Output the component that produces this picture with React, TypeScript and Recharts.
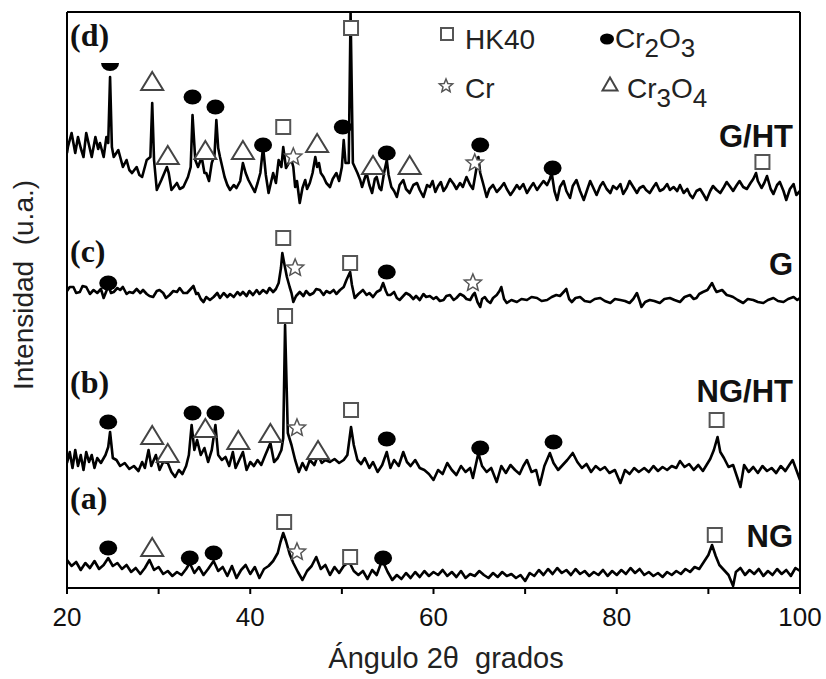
import { ComposedChart, Line, Scatter, XAxis, YAxis, ReferenceLine } from 'recharts';

// 2-theta ticks (minor every 10, labels every 20)
const angleTicks = [20, 30, 40, 50, 60, 70, 80, 90, 100];

// [2θ, intensity], each pattern relative to its own zero
const patternNG: [number, number][] = [
  [20.0, 28], [20.5, 22], [21.0, 26], [21.5, 18], [22.0, 25], [22.5, 20], [23.0, 27], [23.5, 19],
  [24.0, 23], [24.5, 30], [25.0, 22], [25.5, 25], [26.0, 19], [26.5, 23], [27.0, 16], [27.5, 20],
  [28.0, 14], [28.5, 20], [29.0, 28], [29.5, 18], [30.0, 21], [30.5, 14], [31.0, 17], [31.5, 12],
  [32.0, 16], [32.5, 13], [33.0, 19], [33.4, 25], [33.9, 15], [34.4, 21], [34.9, 13], [35.4, 19],
  [36.0, 27], [36.5, 17], [37.0, 21], [37.5, 12], [38.0, 22], [38.5, 10], [39.0, 18], [39.5, 23],
  [40.0, 14], [40.5, 21], [41.0, 10], [41.5, 19], [42.0, 22], [42.5, 27], [43.0, 35], [43.3, 46],
  [43.6, 55], [43.9, 47], [44.3, 34], [44.7, 25], [45.2, 16], [45.7, 8], [46.2, 17], [46.7, 22],
  [47.2, 31], [47.7, 19], [48.2, 23], [48.7, 13], [49.2, 21], [49.7, 15], [50.2, 22], [50.8, 26],
  [51.3, 17], [51.8, 13], [52.3, 17], [52.8, 9], [53.3, 18], [53.8, 13], [54.4, 28], [55.0, 16],
  [55.5, 8], [56.0, 13], [56.5, 9], [57.0, 15], [57.5, 10], [58.0, 16], [58.5, 11], [59.0, 17],
  [59.5, 12], [60.0, 16], [60.5, 13], [61.0, 18], [61.5, 12], [62.0, 16], [62.5, 11], [63.0, 17],
  [63.5, 10], [64.0, 14], [64.5, 12], [65.0, 17], [65.5, 13], [66.0, 10], [66.5, 15], [67.0, 11],
  [67.5, 16], [68.0, 12], [68.5, 14], [69.0, 10], [69.5, 13], [70.0, 7], [70.5, 15], [71.0, 12],
  [71.5, 18], [72.0, 13], [72.5, 19], [73.0, 14], [73.5, 20], [74.0, 15], [74.5, 18], [75.0, 13],
  [75.5, 19], [76.0, 14], [76.5, 17], [77.0, 12], [77.5, 16], [78.0, 13], [78.5, 18], [79.0, 12],
  [79.5, 17], [80.0, 13], [80.5, 18], [81.0, 14], [81.5, 20], [82.0, 15], [82.5, 19], [83.0, 13],
  [83.5, 16], [84.0, 12], [84.5, 15], [85.0, 11], [85.5, 16], [86.0, 13], [86.5, 17], [87.0, 14],
  [87.5, 19], [88.0, 16], [88.5, 21], [89.0, 19], [89.5, 26], [90.0, 33], [90.4, 43], [90.8, 32],
  [91.2, 23], [91.7, 18], [92.2, 13], [92.7, 2], [93.0, 16], [93.5, 20], [94.0, 13], [94.5, 18],
  [95.0, 14], [95.5, 19], [96.0, 12], [96.5, 17], [97.0, 13], [97.5, 19], [98.0, 14], [98.5, 18],
  [99.0, 12], [99.5, 20], [100.0, 17],
];

const patternNGHT: [number, number][] = [
  [20.0, 20], [20.3, 31], [20.6, 15], [20.9, 33], [21.2, 17], [21.5, 28], [21.8, 13], [22.1, 31],
  [22.4, 21], [22.7, 28], [23.0, 15], [23.3, 25], [23.7, 20], [24.2, 28], [24.5, 36], [24.7, 51],
  [25.0, 25], [25.4, 23], [25.8, 17], [26.3, 20], [26.8, 14], [27.3, 17], [27.8, 12], [28.2, 21],
  [28.5, 15], [28.9, 33], [29.2, 17], [29.7, 28], [30.1, 13], [30.5, 21], [31.0, 20], [31.4, 11],
  [31.8, 6], [32.2, 13], [32.6, 9], [33.0, 17], [33.3, 28], [33.6, 58], [33.9, 33], [34.2, 43],
  [34.6, 28], [35.0, 35], [35.4, 21], [35.8, 33], [36.2, 58], [36.5, 28], [36.9, 23], [37.3, 26],
  [37.7, 17], [38.1, 31], [38.4, 15], [38.8, 23], [39.2, 31], [39.6, 13], [40.0, 21], [40.4, 17],
  [40.8, 23], [41.2, 18], [41.6, 27], [42.2, 40], [42.6, 21], [43.0, 25], [43.4, 33], [43.6, 45],
  [43.8, 158], [44.0, 86], [44.1, 50], [44.5, 38], [44.9, 23], [45.3, 11], [45.7, 20], [46.1, 13],
  [46.5, 23], [47.0, 18], [47.4, 28], [47.8, 20], [48.2, 23], [48.7, 21], [49.2, 24], [49.7, 20],
  [50.2, 23], [50.6, 28], [51.0, 56], [51.3, 38], [51.7, 23], [52.1, 19], [52.5, 25], [53.0, 15],
  [53.4, 21], [53.9, 11], [54.4, 18], [54.9, 31], [55.3, 15], [55.7, 23], [56.2, 17], [56.7, 31],
  [57.1, 21], [57.5, 17], [58.0, 23], [58.5, 15], [59.0, 13], [59.5, 9], [60.0, 3], [60.5, 13],
  [61.0, 9], [61.5, 20], [62.0, 13], [62.5, 8], [63.0, 17], [63.5, 11], [64.0, 15], [64.3, 5],
  [64.9, 30], [65.3, 17], [65.8, 11], [66.3, 15], [66.9, 1], [67.4, 17], [67.9, 10], [68.4, 18],
  [68.9, 13], [69.4, 9], [69.8, 17], [70.2, 23], [70.7, 11], [71.2, 13], [71.6, -2], [72.1, 17],
  [72.7, 30], [73.1, 20], [73.6, 13], [74.1, 18], [74.6, 23], [75.2, 30], [75.7, 21], [76.2, 15],
  [76.7, 19], [77.2, 11], [77.7, 17], [78.2, 13], [78.7, 16], [79.2, 10], [79.8, 13], [80.4, 0],
  [80.9, 13], [81.4, 9], [81.9, 15], [82.4, 11], [83.0, 15], [83.5, 11], [84.0, 17], [84.5, 12],
  [85.0, 16], [85.5, 13], [86.0, 17], [86.5, 15], [86.9, 22], [87.4, 16], [87.9, 19], [88.4, 13],
  [88.9, 18], [89.4, 12], [89.8, 18], [90.2, 24], [90.6, 33], [91.0, 46], [91.3, 31], [91.7, 25],
  [92.2, 16], [92.7, 18], [93.1, 7], [93.5, -4], [93.9, 18], [94.4, 11], [94.9, 16], [95.4, 10],
  [95.9, 17], [96.4, 12], [96.9, 15], [97.4, 10], [97.9, 17], [98.4, 12], [98.9, 19], [99.2, 23],
  [99.6, 13], [100.0, 3],
];

const patternG: [number, number][] = [
  [20.0, 22], [20.3, 26], [20.7, 26], [21.0, 20], [21.4, 21], [21.7, 27], [22.1, 26], [22.5, 19],
  [22.9, 23], [23.3, 20], [23.7, 24], [24.0, 15], [24.3, 22], [24.5, 28], [24.8, 20], [25.1, 21],
  [25.5, 25], [25.8, 23], [26.1, 26], [26.5, 19], [26.8, 21], [27.2, 20], [27.6, 24], [28.0, 20],
  [28.3, 23], [28.7, 19], [29.0, 17], [29.4, 16], [29.8, 22], [30.1, 23], [30.5, 20], [30.8, 15],
  [31.2, 18], [31.6, 22], [32.0, 21], [32.3, 25], [32.7, 20], [33.1, 20], [33.4, 23], [33.8, 27],
  [34.1, 19], [34.3, 20], [34.6, 14], [34.9, 11], [35.2, 16], [35.6, 13], [36.0, 16], [36.4, 20],
  [36.7, 15], [37.1, 20], [37.5, 16], [37.8, 19], [38.2, 16], [38.6, 21], [38.9, 18], [39.2, 21],
  [39.6, 17], [39.9, 22], [40.3, 18], [40.7, 23], [41.0, 19], [41.4, 23], [41.8, 20], [42.1, 25],
  [42.5, 21], [42.8, 24], [43.1, 30], [43.35, 45], [43.5, 60], [43.7, 50], [44.0, 36], [44.3, 26],
  [44.5, 20], [44.7, 11], [45.0, 17], [45.4, 21], [45.8, 17], [46.1, 22], [46.5, 18], [46.9, 20],
  [47.2, 24], [47.6, 23], [48.0, 18], [48.3, 22], [48.7, 20], [49.1, 23], [49.4, 19], [49.8, 23],
  [50.2, 26], [50.5, 33], [50.9, 41], [51.1, 28], [51.4, 15], [51.8, 19], [52.3, 23], [52.7, 18],
  [53.0, 20], [53.4, 16], [53.8, 21], [54.2, 23], [54.5, 30], [54.8, 22], [55.0, 18], [55.3, 18],
  [55.7, 21], [56.0, 15], [56.3, 13], [56.7, 17], [57.0, 20], [57.4, 18], [57.8, 14], [58.1, 17],
  [58.5, 13], [58.9, 19], [59.2, 16], [59.6, 17], [60.0, 14], [60.3, 16], [60.7, 12], [61.1, 13],
  [61.4, 17], [61.8, 18], [62.2, 13], [62.5, 15], [62.9, 19], [63.3, 17], [63.6, 14], [64.0, 13],
  [64.3, 18], [64.5, 20], [64.8, 11], [65.1, 6], [65.3, 14], [65.6, 16], [65.9, 12], [66.2, 10],
  [66.5, 15], [66.9, 18], [67.2, 22], [67.4, 26], [67.7, 14], [68.0, 10], [68.5, 13], [69.1, 11],
  [69.6, 14], [70.2, 13], [70.7, 16], [71.3, 15], [71.8, 12], [72.4, 13], [72.9, 16], [73.4, 18],
  [73.8, 17], [74.2, 21], [74.5, 24], [74.8, 14], [75.1, 11], [75.5, 15], [76.0, 16], [76.5, 12],
  [77.1, 11], [77.6, 14], [78.2, 15], [78.7, 12], [79.3, 10], [79.8, 14], [80.4, 13], [80.9, 12],
  [81.4, 10], [81.8, 14], [82.2, 20], [82.5, 12], [82.7, 6], [83.1, 11], [83.6, 13], [84.1, 12],
  [84.7, 10], [85.2, 14], [85.8, 15], [86.3, 13], [86.9, 11], [87.4, 16], [88.0, 18], [88.4, 14],
  [88.7, 15], [89.0, 19], [89.4, 21], [89.9, 23], [90.4, 30], [90.7, 24], [90.9, 21], [91.2, 22],
  [91.5, 23], [92.0, 18], [92.4, 17], [92.7, 16], [93.2, 13], [93.8, 10], [94.3, 14], [94.9, 13],
  [95.4, 11], [96.0, 10], [96.5, 13], [97.1, 15], [97.6, 12], [98.2, 11], [98.7, 14], [99.3, 16],
  [99.7, 13], [100.0, 15],
];

const patternGHT: [number, number][] = [
  [20.0, 50], [20.1, 56], [20.5, 70], [20.9, 50], [21.2, 66], [21.5, 55], [21.8, 46], [22.1, 70],
  [22.4, 58], [22.7, 46], [23.1, 66], [23.4, 54], [23.6, 60], [24.0, 46], [24.3, 66], [24.5, 60],
  [24.7, 126], [24.9, 56], [25.1, 46], [25.6, 53], [26.1, 36], [26.5, 43], [26.8, 33], [27.1, 30],
  [27.6, 36], [27.9, 28], [28.2, 26], [28.7, 43], [29.1, 46], [29.3, 100], [29.5, 43], [29.8, 13],
  [30.3, 23], [30.9, 36], [31.1, 30], [31.4, 13], [32.0, 20], [32.3, 14], [32.7, 16], [33.2, 26],
  [33.5, 36], [33.7, 88], [34.0, 43], [34.3, 36], [34.7, 46], [35.0, 30], [35.2, 30], [35.5, 22],
  [35.8, 40], [36.1, 48], [36.3, 83], [36.5, 55], [36.7, 46], [37.2, 26], [37.5, 18], [37.8, 13],
  [38.2, 18], [38.5, 15], [38.9, 22], [39.2, 40], [39.5, 30], [39.8, 23], [40.2, 16], [40.5, 11],
  [40.8, 20], [41.1, 30], [41.4, 56], [41.7, 28], [42.0, 10], [42.3, 22], [42.5, 30], [42.8, 20],
  [43.1, 43], [43.4, 36], [43.6, 56], [43.9, 35], [44.2, 40], [44.5, 43], [44.7, 36], [44.9, 16],
  [45.1, 22], [45.4, 0], [45.7, 15], [46.0, 23], [46.2, 14], [46.5, 20], [46.8, 30], [47.1, 46],
  [47.3, 36], [47.5, 40], [47.7, 30], [48.0, 26], [48.3, 20], [48.7, 16], [49.0, 24], [49.4, 30],
  [49.7, 22], [50.0, 36], [50.2, 63], [50.4, 40], [50.75, 40], [50.95, 191], [51.2, 40], [51.4, 36],
  [51.7, 30], [52.0, 23], [52.2, 16], [52.5, 25], [52.7, 30], [53.0, 18], [53.3, 10], [53.6, 24],
  [53.8, 26], [54.1, 15], [54.3, 13], [54.6, 30], [54.9, 43], [55.1, 28], [55.4, 16], [55.7, 12],
  [56.0, 6], [56.3, 18], [56.7, 23], [57.0, 14], [57.4, 10], [57.8, 18], [58.2, 20], [58.5, 13],
  [58.9, 6], [59.3, 18], [59.6, 16], [59.9, 22], [60.2, 11], [60.5, 17], [60.8, 21], [61.1, 12],
  [61.4, 16], [61.8, 24], [62.2, 19], [62.5, 14], [62.9, 20], [63.2, 16], [63.6, 26], [64.0, 18],
  [64.3, 14], [64.6, 30], [64.9, 46], [65.1, 30], [65.4, 20], [65.8, 6], [66.1, 14], [66.5, 18],
  [66.9, 11], [67.3, 15], [67.7, 20], [68.0, 14], [68.4, 8], [68.7, 12], [69.1, 18], [69.4, 14],
  [69.8, 19], [70.2, 10], [70.6, 16], [70.9, 20], [71.3, 13], [71.6, 17], [72.0, 22], [72.4, 18],
  [72.7, 24], [72.9, 30], [73.2, 12], [73.5, 3], [73.8, 16], [74.2, 22], [74.5, 12], [74.9, 5],
  [75.2, 17], [75.6, 23], [76.0, 12], [76.4, 3], [76.8, 14], [77.1, 22], [77.5, 14], [77.8, 8],
  [78.2, 17], [78.5, 21], [78.9, 14], [79.3, 10], [79.6, 17], [80.0, 14], [80.4, 19], [80.7, 9],
  [81.1, 15], [81.4, 22], [81.8, 16], [82.2, 10], [82.5, 15], [82.9, 17], [83.2, 13], [83.6, 10],
  [84.0, 16], [84.3, 20], [84.7, 12], [85.1, 14], [85.5, 19], [85.8, 13], [86.2, 16], [86.6, 12],
  [86.9, 18], [87.3, 10], [87.7, 14], [88.0, 8], [88.3, 5], [88.7, 12], [89.1, 14], [89.5, 8],
  [89.8, 3], [90.2, 12], [90.5, 17], [90.9, 13], [91.3, 10], [91.7, 16], [92.0, 21], [92.4, 16],
  [92.7, 12], [93.1, 18], [93.4, 22], [93.8, 16], [94.2, 14], [94.6, 20], [94.9, 24], [95.2, 30],
  [95.4, 22], [95.8, 15], [96.1, 20], [96.4, 27], [96.8, 14], [97.1, 9], [97.5, 18], [97.8, 21],
  [98.2, 12], [98.5, 3], [98.9, 14], [99.3, 19], [99.6, 8], [100.0, 12],
];

// vertical shift of each pattern in the stack
const offsetNG = 0;
const offsetNGHT = 105;
const offsetG = 275;
const offsetGHT = 385;

// phase markers [2θ, stacked intensity]
const hk40Marks: [number, number][] = [
  [43.6, 461], [51.0, 560], [95.9, 426],
  [43.6, 350], [50.9, 325],
  [43.8, 272], [51.0, 178], [90.9, 168],
  [43.7, 66], [50.9, 31], [90.7, 53],
];
const cr2o3Marks: [number, number][] = [
  [33.7, 491], [36.2, 481], [41.4, 443], [50.1, 461], [54.9, 435], [65.1, 443], [73.0, 420],
  [24.5, 305], [54.9, 316],
  [24.5, 166], [33.7, 175], [36.2, 175], [54.9, 149], [65.1, 140], [73.1, 146],
  [24.5, 40], [33.4, 30], [36.0, 35], [54.5, 30],
];
const crMarks: [number, number][] = [
  [44.7, 431], [64.5, 425],
  [44.9, 320], [64.3, 305],
  [45.1, 160],
  [45.1, 36],
];
const cr3o4Marks: [number, number][] = [
  [29.3, 507], [31.0, 433], [35.1, 438], [39.2, 438], [47.3, 445], [53.4, 423], [57.4, 423],
  [29.3, 153], [31.0, 135], [35.1, 160], [38.7, 148], [42.2, 155], [47.4, 138],
  [29.3, 41],
];
const otherMarks: [number, number][] = [[24.7, 521]];

const toPoints = (rows: [number, number][], offset = 0) =>
  rows.map(([x, v]) => ({ x, y: v + offset }));

const sans = 'Liberation Sans, Arial, sans-serif';
const serif = 'Liberation Serif, Times New Roman, serif';

function Square({ cx, cy, s = 14 }: any) {
  return <rect x={cx - s / 2} y={cy - s / 2} width={s} height={s} fill="#fff" stroke="#555" strokeWidth={2} />;
}
function Dot({ cx, cy, r = 8 }: any) {
  return <ellipse cx={cx} cy={cy} rx={r + 1} ry={r - 0.5} fill="#000" />;
}
function Star({ cx, cy, r = 9 }: any) {
  const pts: string[] = [];
  for (let i = 0; i < 10; i++) {
    const rad = i % 2 === 0 ? r : r * 0.45;
    const a = -Math.PI / 2 + (i * Math.PI) / 5;
    pts.push(`${cx + rad * Math.cos(a)},${cy + rad * Math.sin(a)}`);
  }
  return <polygon points={pts.join(' ')} fill="#fff" stroke="#555" strokeWidth={1.5} />;
}
function Triangle({ cx, cy, w = 22, h = 18 }: any) {
  return (
    <path
      d={`M${cx},${cy - h / 2} L${cx + w / 2},${cy + h / 2} L${cx - w / 2},${cy + h / 2} Z`}
      fill="#fff"
      stroke="#444"
      strokeWidth={2}
      strokeLinejoin="miter"
    />
  );
}
function HalfDisc({ cx, cy }: any) {
  return <path d={`M${cx - 9},${cy - 4} L${cx + 9},${cy - 4} A9 8 0 0 1 ${cx - 9},${cy - 4} Z`} fill="#000" />;
}

const traceStyle = { stroke: '#000', strokeWidth: 2.6, strokeLinejoin: 'round' as const };

export default function App() {
  return (
    <div style={{ position: 'absolute', left: 0, top: 0, width: 826, height: 679, background: '#fff' }}>
      <ComposedChart width={826} height={679} margin={{ top: 12, right: 26, bottom: 61, left: 67 }}>
        <XAxis
          dataKey="x"
          type="number"
          domain={[20, 100]}
          ticks={angleTicks}
          allowDataOverflow
          height={30}
          tickSize={6}
          tickMargin={14}
          tickFormatter={(v: number) => (v % 20 === 0 ? String(v) : '')}
          axisLine={{ stroke: '#000', strokeWidth: 2 }}
          tickLine={{ stroke: '#000', strokeWidth: 2 }}
          tick={{ fontSize: 26, fill: '#111', fontFamily: sans }}
        />
        <YAxis dataKey="y" type="number" domain={[0, 576]} allowDataOverflow hide />
        <ReferenceLine y={576} stroke="#000" strokeWidth={2} />
        <ReferenceLine x={20} stroke="#000" strokeWidth={2} />
        <ReferenceLine x={100} stroke="#000" strokeWidth={2} />
        <Line data={toPoints(patternNG, offsetNG)} dataKey="y" {...traceStyle} dot={false} isAnimationActive={false} />
        <Line data={toPoints(patternNGHT, offsetNGHT)} dataKey="y" {...traceStyle} dot={false} isAnimationActive={false} />
        <Line data={toPoints(patternG, offsetG)} dataKey="y" {...traceStyle} dot={false} isAnimationActive={false} />
        <Line data={toPoints(patternGHT, offsetGHT)} dataKey="y" {...traceStyle} dot={false} isAnimationActive={false} />
        <Scatter data={toPoints(hk40Marks)} dataKey="y" isAnimationActive={false} shape={(p: any) => <Square cx={p.cx} cy={p.cy} />} />
        <Scatter data={toPoints(cr2o3Marks)} dataKey="y" isAnimationActive={false} shape={(p: any) => <Dot cx={p.cx} cy={p.cy} />} />
        <Scatter data={toPoints(crMarks)} dataKey="y" isAnimationActive={false} shape={(p: any) => <Star cx={p.cx} cy={p.cy} />} />
        <Scatter data={toPoints(cr3o4Marks)} dataKey="y" isAnimationActive={false} shape={(p: any) => <Triangle cx={p.cx} cy={p.cy} />} />
        <Scatter data={toPoints(otherMarks)} dataKey="y" isAnimationActive={false} shape={(p: any) => <HalfDisc cx={p.cx} cy={p.cy} />} />
      </ComposedChart>
      <svg width={826} height={679} style={{ position: 'absolute', left: 0, top: 0, pointerEvents: 'none' }}>
        <g fontFamily={serif} fontWeight="bold" fontSize={32} fill="#111">
          <text x={70} y={46}>(d)</text>
          <text x={70} y={262}>(c)</text>
          <text x={70} y={393}>(b)</text>
          <text x={70} y={509}>(a)</text>
        </g>
        <g fontFamily={sans} fontWeight="bold" fontSize={31} fill="#111" textAnchor="end">
          <text x={793} y={147}>G/HT</text>
          <text x={793} y={275}>G</text>
          <text x={793} y={402}>NG/HT</text>
          <text x={793} y={547}>NG</text>
        </g>
        <g fontFamily={sans} fontSize={28} fill="#222">
          <Square cx={447} cy={34} s={12} />
          <text x={465} y={49}>HK40</text>
          <Dot cx={607} cy={39} r={6} />
          <text x={615} y={48}>
            Cr<tspan dy={9} fontSize={26}>2</tspan>
            <tspan dy={-9}>O</tspan>
            <tspan dy={9} fontSize={26}>3</tspan>
          </text>
          <Star cx={446} cy={86} r={7} />
          <text x={465} y={98}>Cr</text>
          <Triangle cx={610} cy={84} w={15} h={13} />
          <text x={627} y={98}>
            Cr<tspan dy={9} fontSize={26}>3</tspan>
            <tspan dy={-9}>O</tspan>
            <tspan dy={9} fontSize={26}>4</tspan>
          </text>
        </g>
        <text x={446} y={668} textAnchor="middle" fontFamily={sans} fontSize={29} fill="#222">
          {'Ángulo 2θ\u00a0\u00a0grados'}
        </text>
        <text
          x={33}
          y={285}
          transform="rotate(-90 33 285)"
          textAnchor="middle"
          fontFamily={sans}
          fontSize={28}
          fill="#222"
        >
          {'Intensidad\u00a0\u00a0(u.a.)'}
        </text>
      </svg>
    </div>
  );
}
